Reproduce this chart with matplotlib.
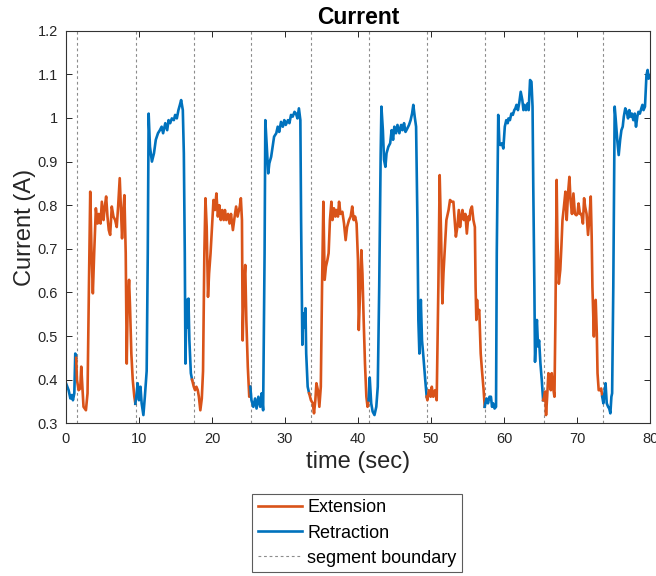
import numpy as np
import matplotlib
matplotlib.use("Agg")
import matplotlib.pyplot as plt
from matplotlib.ticker import FormatStrFormatter
from matplotlib.lines import Line2D

plt.rcParams['font.family'] = ['Liberation Sans', 'DejaVu Sans']

# motor current trace (sec, A)
time_s = [
    0.0, 0.36, 0.6, 0.82, 0.95, 1.14, 1.27, 1.4, 1.5, 1.73, 1.95, 2.09, 2.27, 2.4, 2.73, 2.95,
    3.14, 3.32, 3.5, 3.68, 3.86, 4.09, 4.32, 4.5, 4.73, 4.91, 5.14, 5.32, 5.5, 5.68, 5.86, 6.05,
    6.27, 6.5, 6.73, 6.95, 7.14, 7.36, 7.55, 7.68, 7.86, 8.0, 8.18, 8.32, 8.45, 8.64, 8.77, 8.95,
    9.14, 9.36, 9.5, 9.68, 9.82, 10.0, 10.2, 10.36, 10.6, 10.8, 11.05, 11.2, 11.32, 11.5, 11.77,
    12.05, 12.3, 12.6, 12.86, 13.1, 13.3, 13.6, 13.86, 14.05, 14.27, 14.5, 14.77, 14.95, 15.18,
    15.4, 15.6, 15.77, 16.0, 16.14, 16.27, 16.36, 16.5, 16.64, 16.77, 16.9, 17.1, 17.27, 17.5,
    17.68, 17.86, 18.05, 18.2, 18.4, 18.6, 18.77, 18.95, 19.1, 19.27, 19.45, 19.6, 19.8, 20.05,
    20.2, 20.4, 20.6, 20.8, 21.0, 21.2, 21.4, 21.6, 21.77, 21.95, 22.2, 22.4, 22.6, 22.86, 23.1,
    23.3, 23.5, 23.8, 23.95, 24.1, 24.2, 24.36, 24.55, 24.7, 24.9, 25.1, 25.25, 25.4, 25.66,
    25.9, 26.1, 26.35, 26.6, 26.8, 27.0, 27.2, 27.3, 27.5, 27.7, 27.85, 28.1, 28.3, 28.5, 28.8,
    29.0, 29.2, 29.45, 29.7, 29.9, 30.1, 30.4, 30.6, 30.82, 31.05, 31.3, 31.5, 31.7, 31.9, 32.1,
    32.2, 32.37, 32.5, 32.65, 32.8, 32.9, 33.1, 33.3, 33.55, 33.8, 33.97, 34.15, 34.3, 34.5,
    34.7, 34.9, 35.07, 35.25, 35.43, 35.6, 35.8, 35.97, 36.15, 36.35, 36.5, 36.7, 36.9, 37.07,
    37.25, 37.4, 37.6, 37.85, 38.08, 38.3, 38.5, 38.76, 38.99, 39.2, 39.4, 39.6, 39.8, 39.99,
    40.1, 40.3, 40.45, 40.6, 40.77, 40.95, 41.14, 41.3, 41.45, 41.6, 41.8, 42.0, 42.25, 42.5,
    42.7, 42.9, 43.1, 43.2, 43.4, 43.56, 43.75, 43.9, 44.15, 44.4, 44.6, 44.8, 44.97, 45.2,
    45.4, 45.66, 45.9, 46.1, 46.3, 46.5, 46.75, 46.98, 47.2, 47.4, 47.57, 47.76, 47.95, 48.13,
    48.26, 48.4, 48.6, 48.76, 48.95, 49.2, 49.4, 49.5, 49.7, 49.95, 50.1, 50.3, 50.55, 50.77,
    51.0, 51.18, 51.37, 51.55, 51.7, 51.9, 52.1, 52.4, 52.6, 52.83, 53.06, 53.2, 53.4, 53.6,
    53.8, 53.97, 54.15, 54.3, 54.5, 54.7, 54.9, 55.1, 55.25, 55.4, 55.6, 55.8, 56.0, 56.1, 56.2,
    56.3, 56.4, 56.6, 56.8, 56.98, 57.2, 57.35, 57.44, 57.6, 57.8, 58.0, 58.2, 58.35, 58.5,
    58.7, 58.9, 59.0, 59.2, 59.36, 59.5, 59.7, 59.9, 60.1, 60.3, 60.5, 60.6, 60.8, 61.0, 61.2,
    61.4, 61.55, 61.7, 61.9, 62.1, 62.28, 62.5, 62.65, 62.8, 63.0, 63.2, 63.37, 63.56, 63.75,
    63.9, 64.0, 64.15, 64.24, 64.4, 64.5, 64.65, 64.8, 64.98, 65.16, 65.35, 65.5, 65.62, 65.75,
    65.9, 66.07, 66.25, 66.4, 66.53, 66.7, 66.9, 67.03, 67.2, 67.3, 67.5, 67.7, 67.85, 68.0,
    68.2, 68.4, 68.58, 68.76, 68.95, 69.1, 69.3, 69.5, 69.7, 69.9, 70.05, 70.2, 70.4, 70.6,
    70.8, 70.96, 71.1, 71.3, 71.5, 71.7, 71.87, 72.0, 72.1, 72.3, 72.4, 72.55, 72.7, 72.8,
    72.96, 73.15, 73.3, 73.45, 73.6, 73.75, 73.9, 74.06, 74.25, 74.4, 74.56, 74.7, 74.8, 74.96,
    75.15, 75.3, 75.5, 75.7, 75.9, 76.07, 76.25, 76.4, 76.6, 76.8, 76.98, 77.15, 77.33, 77.5,
    77.7, 77.9, 78.07, 78.25, 78.4, 78.6, 78.8, 78.95, 79.1, 79.3, 79.5, 79.66, 79.8, 79.95,
]
current_a = [
    0.392, 0.376, 0.357, 0.365, 0.353, 0.369, 0.46, 0.45, 0.40, 0.376, 0.38, 0.43, 0.376, 0.338, 0.33, 0.369,
    0.613, 0.831, 0.69, 0.598, 0.69, 0.793, 0.758, 0.78, 0.758, 0.808, 0.766, 0.797, 0.82, 0.774, 0.743, 0.732,
    0.797, 0.774, 0.766, 0.75, 0.797, 0.862, 0.78, 0.724, 0.789, 0.823, 0.69, 0.437, 0.575, 0.629, 0.567, 0.46,
    0.40, 0.361, 0.345, 0.369, 0.392, 0.353, 0.384, 0.346, 0.319, 0.361, 0.42, 0.69, 1.01, 0.934, 0.90,
    0.919, 0.95, 0.965, 0.972, 0.98, 0.965, 0.988, 0.972, 0.995, 0.988, 0.999, 0.995, 1.007, 0.999,
    1.018, 1.03, 1.041, 1.018, 0.919, 0.69, 0.437, 0.583, 0.52, 0.586, 0.49, 0.415, 0.40, 0.384,
    0.376, 0.384, 0.376, 0.361, 0.33, 0.357, 0.42, 0.69, 0.816, 0.75, 0.59, 0.644, 0.69, 0.766,
    0.812, 0.789, 0.827, 0.774, 0.80, 0.766, 0.789, 0.766, 0.789, 0.766, 0.78, 0.758, 0.78, 0.743, 0.774,
    0.797, 0.774, 0.797, 0.816, 0.766, 0.49, 0.613, 0.663, 0.537, 0.43, 0.361, 0.384, 0.353, 0.338,
    0.357, 0.334, 0.361, 0.338, 0.369, 0.33, 0.69, 0.995, 0.934, 0.873, 0.896, 0.911, 0.934, 0.957, 0.965,
    0.98, 0.968, 0.991, 0.98, 0.995, 0.984, 0.995, 0.988, 1.007, 1.003, 1.014, 1.01, 0.999, 1.022, 0.995,
    0.766, 0.48, 0.552, 0.52, 0.564, 0.46, 0.384, 0.369, 0.353, 0.346, 0.323, 0.353, 0.392, 0.376,
    0.338, 0.384, 0.613, 0.808, 0.629, 0.659, 0.674, 0.69, 0.766, 0.808, 0.766, 0.793, 0.774, 0.789,
    0.774, 0.808, 0.78, 0.785, 0.758, 0.72, 0.75, 0.766, 0.774, 0.797, 0.766, 0.774, 0.758, 0.674,
    0.514, 0.613, 0.697, 0.644, 0.537, 0.437, 0.361, 0.338, 0.353, 0.405, 0.346, 0.327, 0.319, 0.338,
    0.384, 0.613, 0.919, 1.026, 0.972, 0.904, 0.888, 0.919, 0.934, 0.942, 0.972, 0.95, 0.98, 0.965,
    0.984, 0.965, 0.984, 0.972, 0.988, 0.968, 0.976, 0.984, 0.995, 1.01, 1.03, 1.003, 0.98, 0.766,
    0.537, 0.46, 0.583, 0.49, 0.453, 0.40, 0.361, 0.353, 0.376, 0.361, 0.384, 0.361, 0.376, 0.353,
    0.613, 0.869, 0.735, 0.575, 0.644, 0.705, 0.766, 0.789, 0.812, 0.808, 0.808, 0.774, 0.728, 0.75,
    0.789, 0.75, 0.774, 0.789, 0.766, 0.78, 0.735, 0.774, 0.766, 0.789, 0.797, 0.766, 0.75, 0.613, 0.537,
    0.583, 0.552, 0.56, 0.46, 0.42, 0.376, 0.338, 0.346, 0.357, 0.346, 0.361, 0.361, 0.338, 0.346,
    0.334, 0.338, 0.69, 1.007, 0.942, 0.938, 0.942, 0.93, 0.98, 0.995, 0.988, 0.999, 0.995, 1.01, 1.007,
    1.018, 1.022, 1.03, 1.018, 1.037, 1.06, 1.041, 1.018, 1.03, 1.018, 1.033, 1.018, 1.087, 1.083,
    1.026, 0.842, 0.613, 0.441, 0.514, 0.537, 0.476, 0.49, 0.437, 0.40, 0.353, 0.361, 0.373, 0.319,
    0.361, 0.415, 0.407, 0.376, 0.415, 0.384, 0.361, 0.537, 0.858, 0.728, 0.62, 0.652, 0.705, 0.766,
    0.797, 0.831, 0.766, 0.827, 0.865, 0.812, 0.78, 0.827, 0.78, 0.777, 0.78, 0.804, 0.78, 0.78,
    0.758, 0.816, 0.797, 0.78, 0.732, 0.774, 0.82, 0.728, 0.613, 0.499, 0.575, 0.583, 0.506, 0.415,
    0.376, 0.376, 0.38, 0.361, 0.346, 0.369, 0.392, 0.346, 0.338, 0.334, 0.323, 0.361, 0.369, 0.613,
    1.026, 0.995, 0.95, 0.915, 0.95, 0.972, 0.98, 1.003, 1.022, 1.014, 0.999, 1.018, 1.003, 1.01,
    0.995, 1.01, 0.98, 1.003, 1.014, 1.01, 1.022, 1.03, 1.018, 1.026, 1.098, 1.11, 1.09, 1.098,
]

# times where the actuator switches direction
boundaries = [1.5, 9.6, 17.5, 25.4, 33.5, 41.5, 49.5, 57.4, 65.5, 73.5]
first_phase = 'Retraction'

t = np.array(time_s)
cur = np.array(current_a)
colors = {'Extension': '#D95319', 'Retraction': '#0072BD'}

fig = plt.figure(figsize=(6.56, 5.76), dpi=100)
ax = fig.add_axes([0.1006, 0.265, 0.8904, 0.6817])

edges = [t[0]] + boundaries + [t[-1] + 1]
phase = first_phase
for lo, hi in zip(edges[:-1], edges[1:]):
    idx = np.where((t >= lo) & (t < hi))[0]
    if idx[0] > 0:
        idx = np.r_[idx[0] - 1, idx]
    ax.plot(t[idx], cur[idx], color=colors[phase], lw=1.9)
    phase = 'Extension' if phase == 'Retraction' else 'Retraction'

for b in boundaries:
    ax.axvline(b, color='0.55', lw=0.8, ls=(0, (2.5, 2.5)), zorder=0)

ax.set_xlim(0, 80)
ax.set_ylim(0.3, 1.2)
ax.set_xticks(np.arange(0, 81, 10))
ax.set_yticks(np.arange(0.3, 1.21, 0.1))
ax.yaxis.set_major_formatter(FormatStrFormatter('%g'))
ax.tick_params(direction='in', top=True, right=True, length=4, width=0.7,
               labelsize=10.5, colors='0.15', pad=6)
for s in ax.spines.values():
    s.set_color('0.2')
    s.set_linewidth(0.8)

ax.set_title('Current', fontsize=16.5, fontweight='bold', pad=5)
ax.set_xlabel('time (sec)', fontsize=17, color='0.15', labelpad=4)
ax.set_ylabel('Current (A)', fontsize=17, color='0.15', labelpad=1)

handles = [
    Line2D([], [], color=colors['Extension'], lw=1.9),
    Line2D([], [], color=colors['Retraction'], lw=1.9),
    Line2D([], [], color='0.55', lw=0.8, ls=(0, (2.5, 2.5))),
]
leg = fig.legend(handles, ['Extension', 'Retraction', 'segment boundary'],
                 loc='upper center', bbox_to_anchor=(357 / 656, 1 - 494 / 576),
                 fontsize=13, frameon=True, fancybox=False, edgecolor='0.2',
                 handlelength=2.45, handletextpad=0.3, labelspacing=0.45,
                 borderpad=0.3, borderaxespad=0)
leg.get_frame().set_linewidth(0.8)

fig.savefig('out.png', dpi=100)
